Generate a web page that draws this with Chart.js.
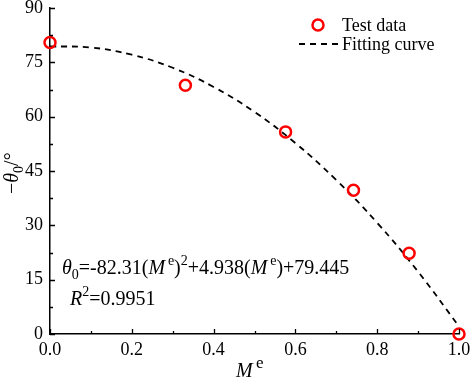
<!DOCTYPE html>
<html>
<head>
<meta charset="utf-8">
<script src="https://cdn.jsdelivr.net/npm/chart.js@4.4.1/dist/chart.umd.min.js"></script>
<style>
  html, body { margin: 0; padding: 0; background: #fff; }
  #wrap { width: 470px; height: 380px; position: relative; }
</style>
</head>
<body>
<div id="wrap"><canvas id="chart"></canvas></div>
<script>
// test data
const testX = [0, 0.331, 0.576, 0.742, 0.878, 1.0];
const testY = [80.5, 68.7, 55.8, 39.7, 22.3, 0];
// fitting curve
const fitX = [0, 0.1, 0.2, 0.3, 0.4, 0.5, 0.6, 0.7, 0.8, 0.9, 1.0];
const fitY = [79.4, 79.1, 77.1, 73.5, 68.2, 61.3, 52.7, 42.5, 30.7, 17.2, 2.1];
const xTicks = [0, 0.2, 0.4, 0.6, 0.8, 1.0];
const yTicks = [0, 15, 30, 45, 60, 75, 90];

const SERIF = '"Liberation Serif", "Times New Roman", serif';

// draws a list of [text, font, dy] pieces one after the other
function richText(ctx, x, y, parts) {
    let cx = x;
    parts.forEach(function (p) {
        ctx.font = p[1];
        ctx.fillText(p[0], cx, y + (p[2] || 0));
        cx += ctx.measureText(p[0]).width;
    });
    return cx;
}

const extras = {
    id: "extras",
    afterDraw(chart) {
        const ctx = chart.ctx;
        const xs = chart.scales.x, ys = chart.scales.y;
        const a = chart.chartArea;
        ctx.save();
        ctx.strokeStyle = "#000";
        ctx.lineWidth = 1.3;
        // inward ticks, major + minor
        ctx.beginPath();
        for (let v = 0; v <= 1.0001; v += 0.1) {
            const px = Math.round(xs.getPixelForValue(v)) + 0.5;
            const major = Math.round(v * 10) % 2 === 0;
            ctx.moveTo(px, a.bottom);
            ctx.lineTo(px, a.bottom - (major ? 5 : 3));
        }
        for (let v = 0; v <= 90; v += 7.5) {
            const py = Math.round(ys.getPixelForValue(v)) + 0.5;
            const major = v % 15 === 0;
            ctx.moveTo(a.left, py);
            ctx.lineTo(a.left + (major ? 5 : 3), py);
        }
        ctx.stroke();

        ctx.fillStyle = "#000";
        ctx.textBaseline = "alphabetic";
        ctx.textAlign = "left";

        // x title: M^e
        richText(ctx, 236, 377, [
            ["M", "italic 20px " + SERIF],
            ["\u2009e", "17px " + SERIF, -9]
        ]);

        // y title: −θ0 / °
        ctx.save();
        ctx.translate(18, 194);
        ctx.rotate(-Math.PI / 2);
        richText(ctx, 0, 0, [
            ["\u2212", "20px " + SERIF],
            ["\u03b8", "italic 20px " + SERIF],
            ["0", "14px " + SERIF, 5],
            ["/\u00b0", "20px " + SERIF]
        ]);
        ctx.restore();

        // equation
        const big = "20px " + SERIF, it = "italic 20px " + SERIF, sm = "14px " + SERIF;
        richText(ctx, 62, 274, [
            ["\u03b8", it], ["0", sm, 5],
            ["=-82.31(", big], ["M", it], ["\u2009e", sm, -9], [")", big], ["2", sm, -9],
            ["+4.938(", big], ["M", it], ["\u2009e", sm, -9], [")+79.445", big]
        ]);
        richText(ctx, 70, 305, [
            ["R", it], ["2", sm, -9], ["=0.9951", big]
        ]);

        // legend
        ctx.strokeStyle = "#ff0000";
        ctx.lineWidth = 2.5;
        ctx.beginPath();
        ctx.arc(318, 25, 5.5, 0, Math.PI * 2);
        ctx.stroke();
        ctx.strokeStyle = "#000";
        ctx.lineWidth = 1.8;
        ctx.setLineDash([6, 5]);
        ctx.beginPath();
        ctx.moveTo(299, 44);
        ctx.lineTo(338, 44);
        ctx.stroke();
        ctx.setLineDash([]);
        ctx.font = "18px " + SERIF;
        ctx.fillText("Test data", 342, 31);
        ctx.fillText("Fitting curve", 342, 50);
        ctx.restore();
    }
};

new Chart(document.getElementById("chart"), {
    type: "scatter",
    data: {
        datasets: [
            {
                label: "Fitting curve",
                data: fitX.map((x, i) => ({ x: x, y: fitY[i] })),
                showLine: true,
                borderColor: "#000",
                borderWidth: 1.8,
                borderDash: [6, 5],
                pointRadius: 0,
                tension: 0.4,
                order: 2,
            },
            {
                label: "Test data",
                data: testX.map((x, i) => ({ x: x, y: testY[i] })),
                borderColor: "#ff0000",
                backgroundColor: "rgba(0,0,0,0)",
                borderWidth: 2.5,
                pointRadius: 5.5,
                order: 1,
                clip: false,
            },
        ],
    },
    options: {
        responsive: true,
        maintainAspectRatio: false,
        animation: false,
        layout: { padding: { top: 6, right: 11, left: 0, bottom: 0 } },
        scales: {
            x: {
                min: 0,
                max: 1.0,
                afterBuildTicks: (s) => { s.ticks = xTicks.map((v) => ({ value: v })); },
                afterFit: (s) => { s.height = 46; s.paddingLeft = 0; s.paddingRight = 0; },
                grid: { display: false, drawTicks: false },
                border: { display: true, color: "#000", width: 1.5 },
                ticks: {
                    color: "#000",
                    padding: 5,
                    maxRotation: 0,
                    font: { family: SERIF, size: 18 },
                    callback: (v) => v.toFixed(1),
                },
            },
            y: {
                min: 0,
                max: 90,
                afterBuildTicks: (s) => { s.ticks = yTicks.map((v) => ({ value: v })); },
                afterFit: (s) => { s.width = 50; s.paddingTop = 0; s.paddingBottom = 0; },
                grid: { display: false, drawTicks: false },
                border: { display: true, color: "#000", width: 1.5 },
                ticks: {
                    color: "#000",
                    padding: 7,
                    font: { family: SERIF, size: 18 },
                },
            },
        },
        plugins: {
            legend: { display: false },
            tooltip: { enabled: false },
        },
    },
    plugins: [extras],
});
</script>
</body>
</html>
